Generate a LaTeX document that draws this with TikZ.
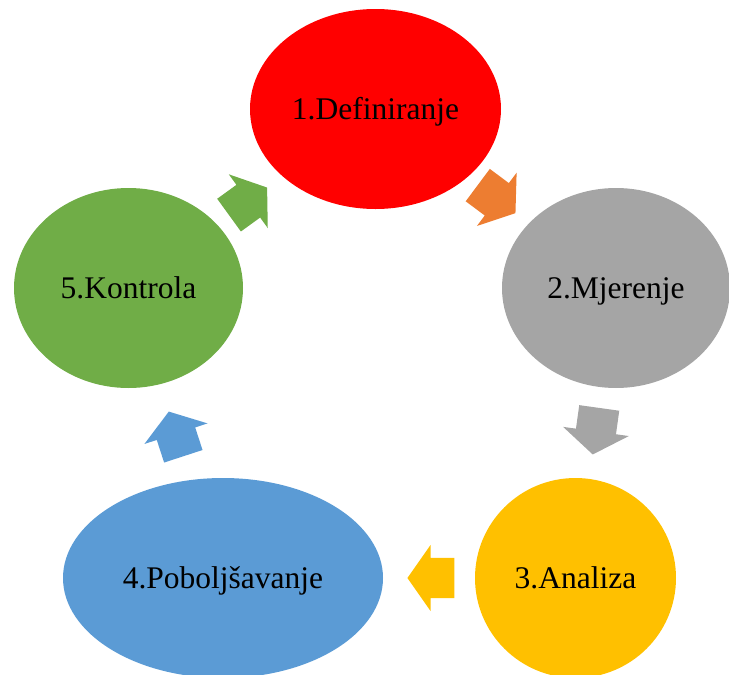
\documentclass[tikz,border=0pt]{standalone}
\usepackage{fontspec}
\setmainfont{Liberation Serif}
\usepackage{tikz}
\usetikzlibrary{shapes.geometric,shapes.arrows,positioning}
\definecolor{defred}{HTML}{FF0000}
\definecolor{mjegray}{HTML}{A5A5A5}
\definecolor{anayellow}{HTML}{FFC000}
\definecolor{pobblue}{HTML}{5B9BD5}
\definecolor{kongreen}{HTML}{70AD47}
\definecolor{arrorange}{HTML}{ED7D31}
\tikzstyle{phase} = [ellipse, inner sep=0pt, minimum height=200pt, text height=21pt, text depth=1pt, font=\fontsize{31.5}{36}\selectfont]
\tikzstyle{blockarrow} = [single arrow, sloped, allow upside down, xshift=-9pt, inner xsep=0pt, inner ysep=20pt, minimum width=66pt, minimum height=47pt, single arrow head extend=13pt, single arrow tip angle=110]

\begin{document}
\begin{tikzpicture}[x=1pt,y=-1pt]
                    \useasboundingbox (0,0) rectangle (729,675);
                    \node [phase, fill=defred, minimum width=251pt] (def) at (375.5,109) {1.Definiranje};
                    \node [phase, fill=mjegray, minimum width=228pt] (mje) at (616,288) {2.Mjerenje};
                    \node [phase, fill=anayellow, minimum width=201pt] (ana) at (575.5,578) {3.Analiza};
                    \node [phase, fill=pobblue, minimum width=320pt] (pob) at (223,578) {4.Poboljšavanje};
                    \node [phase, fill=kongreen, minimum width=229pt] (kon) at (128.5,288) {5.Kontrola};
                    \path (def) -- node [blockarrow, fill=arrorange] {} (mje);
                    \path (mje) -- node [blockarrow, fill=mjegray] {} (ana);
                    \path (ana) -- node [blockarrow, fill=anayellow] {} (pob);
                    \path (pob) -- node [blockarrow, fill=pobblue] {} (kon);
                    \path (kon) -- node [blockarrow, fill=kongreen] {} (def);
                \end{tikzpicture}
\end{document}
